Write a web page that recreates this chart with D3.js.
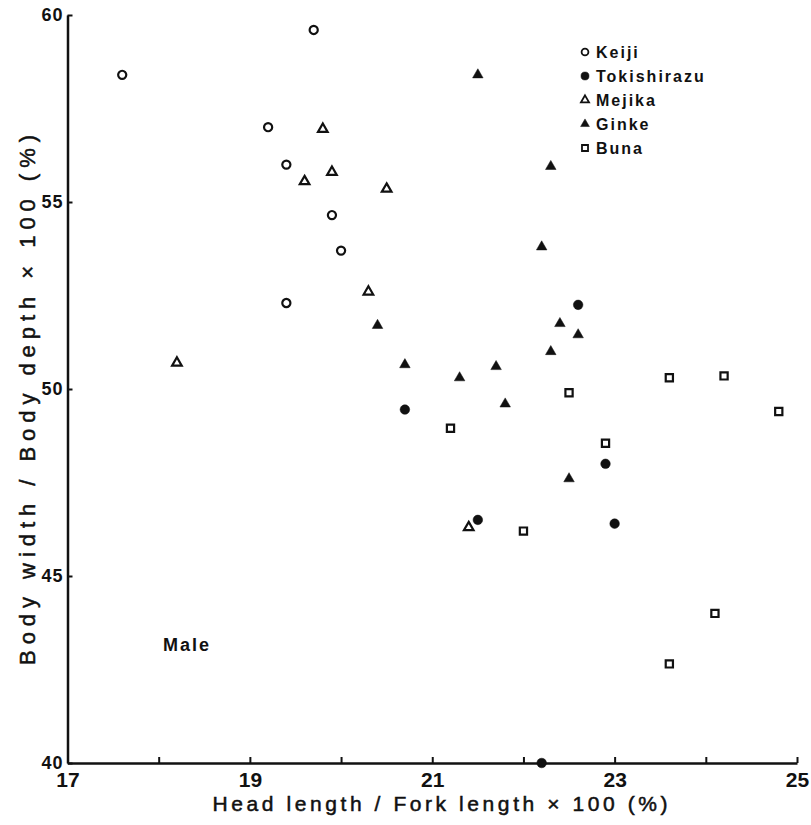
<!DOCTYPE html>
<html>
<head>
<meta charset="utf-8">
<script src="https://cdn.jsdelivr.net/npm/d3@7"></script>
<style>
  body { margin: 0; background: #fff; }
  text { font-family: "Liberation Sans", Arial, sans-serif; fill: #111; }
</style>
</head>
<body>
<div id="container"></div>
<script>
// values: [head length %, body width/depth %]
const keiji = [[17.6, 58.4], [19.7, 59.6], [19.2, 57.0], [19.4, 56.0], [19.9, 54.65], [20.0, 53.7], [19.4, 52.3]];
const tokishirazu = [[22.6, 52.25], [20.7, 49.45], [22.9, 48.0], [21.5, 46.5], [23.0, 46.4], [22.2, 40.0]];
const mejika = [[18.2, 50.7], [19.8, 56.95], [19.9, 55.8], [19.6, 55.55], [20.5, 55.35], [20.3, 52.6], [21.4, 46.3]];
const ginke = [[21.5, 58.4], [22.3, 55.95], [22.2, 53.8], [22.4, 51.75], [22.6, 51.45], [22.3, 51.0], [20.4, 51.7],
  [20.7, 50.65], [21.7, 50.6], [21.3, 50.3], [21.8, 49.6], [22.5, 47.6]];
const buna = [[22.5, 49.9], [21.2, 48.95], [22.9, 48.55], [23.6, 50.3], [24.2, 50.35], [24.8, 49.4], [24.1, 44.0],
  [23.6, 42.65], [22.0, 46.2]];

const speciesNames = ["Keiji", "Tokishirazu", "Mejika", "Ginke", "Buna"];
const speciesData = [keiji, tokishirazu, mejika, ginke, buna];
const xTicks = [17, 18, 19, 20, 21, 22, 23, 24, 25];
const xLabels = [17, 19, 21, 23, 25];
const yTicks = [40, 45, 50, 55, 60];

// marker style per species: shape, filled or not, size
const markers = [
  { type: d3.symbolCircle, filled: false, size: 52 },
  { type: d3.symbolCircle, filled: true, size: 72 },
  { type: d3.symbolTriangle, filled: false, size: 40 },
  { type: d3.symbolTriangle, filled: true, size: 48 },
  { type: d3.symbolSquare, filled: false, size: 52 }
];

const svg = d3.select("#container")
  .append("svg")
  .attr("width", 811)
  .attr("height", 825);

const x = d3.scaleLinear().domain([17, 25]).range([67.5, 797]);
const y = d3.scaleLinear().domain([40, 60]).range([763, 15]);

// x axis, ticks point up into the plot
const xAxis = d3.axisBottom(x)
  .tickValues(xTicks)
  .tickSizeInner(-6)
  .tickSizeOuter(0)
  .tickPadding(9)
  .tickFormat(d => xLabels.includes(d) ? d : "");
const xG = svg.append("g")
  .attr("transform", `translate(0, ${y(40)})`)
  .call(xAxis);
xG.select(".domain").attr("stroke", "#111").attr("stroke-width", 2.5);
xG.selectAll(".tick line").attr("stroke", "#111").attr("stroke-width", 2);
xG.selectAll(".tick text")
  .attr("font-size", 21)
  .attr("font-weight", "bold")
  .style("font-family", "'Liberation Sans Narrow', 'Liberation Sans', sans-serif")
  .attr("fill", "#111");

const yAxis = d3.axisLeft(y)
  .tickValues(yTicks)
  .tickSizeInner(-5)
  .tickSizeOuter(0)
  .tickPadding(4);
const yG = svg.append("g")
  .attr("transform", `translate(${x(17)}, 0)`)
  .call(yAxis);
yG.select(".domain").attr("stroke", "#111").attr("stroke-width", 2.5);
yG.selectAll(".tick line").attr("stroke", "#111").attr("stroke-width", 2);
yG.selectAll(".tick text")
  .attr("font-size", 18)
  .attr("font-weight", "bold")
  .attr("letter-spacing", 1)
  .attr("fill", "#111");

// axis titles, stretched with textLength to the span in the figure
svg.append("text")
  .attr("x", 440)
  .attr("y", 811)
  .attr("text-anchor", "middle")
  .attr("font-size", 21)
  .attr("stroke", "#111")
  .attr("stroke-width", 0.5)
  .attr("textLength", 455)
  .attr("lengthAdjust", "spacing")
  .text("Head length / Fork length × 100 (%)");

svg.append("text")
  .attr("transform", "translate(35, 400) rotate(-90)")
  .attr("text-anchor", "middle")
  .attr("font-size", 22)
  .attr("stroke", "#111")
  .attr("stroke-width", 0.5)
  .attr("textLength", 530)
  .attr("lengthAdjust", "spacing")
  .text("Body width / Body depth × 100 (%)");

svg.append("text")
  .attr("x", 163)
  .attr("y", 651)
  .attr("font-size", 18)
  .attr("font-weight", "bold")
  .attr("letter-spacing", 2)
  .text("Male");

// points
speciesData.forEach((pts, i) => {
  const m = markers[i];
  svg.append("g")
    .attr("class", "series-" + speciesNames[i])
    .selectAll("path")
    .data(pts)
    .join("path")
    .attr("transform", d => `translate(${x(d[0])}, ${y(d[1])})`)
    .attr("d", d3.symbol().type(m.type).size(m.size))
    .attr("fill", m.filled ? "#111" : "#fff")
    .attr("stroke", "#111")
    .attr("stroke-width", m.filled ? 0.5 : 2.2);
});

// legend
const legend = svg.append("g").attr("transform", "translate(585, 52)");
speciesNames.forEach((name, i) => {
  const m = markers[i];
  const row = legend.append("g").attr("transform", `translate(0, ${i * 24})`);
  row.append("path")
    .attr("d", d3.symbol().type(m.type).size(m.size * 0.7))
    .attr("fill", m.filled ? "#111" : "#fff")
    .attr("stroke", "#111")
    .attr("stroke-width", m.filled ? 0.5 : 1.8);
  row.append("text")
    .attr("x", 11)
    .attr("y", 6)
    .attr("font-size", 16)
    .attr("font-weight", "bold")
    .attr("letter-spacing", 2)
    .text(name);
});
</script>
</body>
</html>
